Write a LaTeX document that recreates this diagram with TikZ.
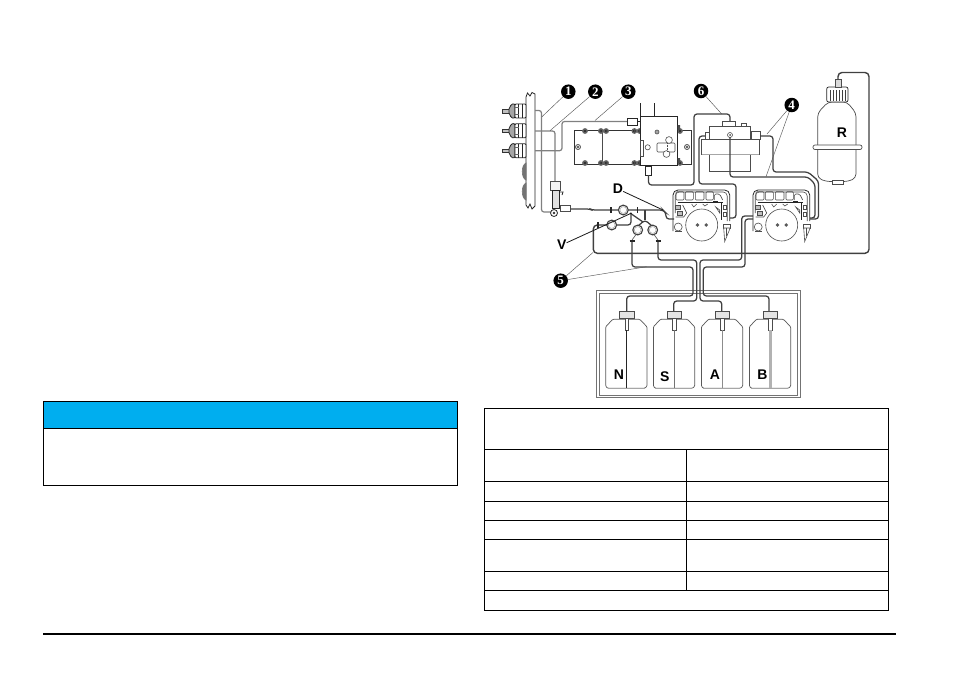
\documentclass[tikz,border=0pt]{standalone}
\usepackage{fontspec}
\setmainfont{Liberation Sans}
\newfontfamily\calloutfont{Liberation Serif}
\definecolor{noticeblue}{HTML}{00AEEF}
\tikzset{
  rulebox/.style={draw=black,line width=0.9pt},
  tube/.style={draw=black!75,line width=1.25pt,rounded corners=3pt},
  lighttube/.style={draw=black!50,line width=1.2pt,rounded corners=2.5pt},
  thinpart/.style={draw=black!70,line width=0.6pt},
  darkpart/.style={draw=black!85,line width=0.8pt},
  leader/.style={draw=black!65,line width=0.45pt},
  darkleader/.style={draw=black!90,line width=0.8pt},
  callout/.style={circle,fill=black,text=white,inner sep=0pt,minimum size=14.5pt,font=\calloutfont\bfseries\fontsize{13}{13}\selectfont},
  letter/.style={inner sep=0pt,font=\bfseries\fontsize{14}{14}\selectfont},
  connector/.pic={
    \draw[draw=black!80,line width=0.6pt,fill=black!25] (-24,-1.8) rectangle (-17,1.8);
    \draw[black!85,line width=0.8pt,fill=black!35] (-17,-2) .. controls (-15,-8) and (-12,-8) .. (-11,-6) -- (-11,6) .. controls (-12,8) and (-15,8) .. (-17,2) -- cycle;
    \draw[black!85,line width=0.8pt,fill=white,rounded corners=1pt] (-11,-7) rectangle (0,7);
    \draw[black!85,line width=0.8pt] (-7.5,-7)--(-7.5,7) (-3.5,-7)--(-3.5,7);
    \draw[black!60,line width=0.8pt] (-11,-3.5) -- (-7.5,-3.5) (-11,3.5) -- (-7.5,3.5);
  },
  screwpair/.pic={
    \fill[black!60] (-2.6,0) circle (2.9) (2.6,0) circle (2.9);
    \draw[black!90,line width=0.4pt] (-2.6,0) circle (1.2) (2.6,0) circle (1.2);
  },
  singlescrew/.pic={
    \fill[black!60] (0,0) circle (2.9);
    \draw[black!90,line width=0.4pt] (0,0) circle (1.2);
  },
  pump/.pic={
    \draw[darkpart,rounded corners=5pt,fill=white] (-28.7,6) -- (-28.7,-35) -- (28,-35) -- (28,-4);
    \draw[thinpart,rounded corners=4pt] (-26.5,-12) -- (-26.5,-33) -- (25.5,-33) -- (25.5,-4);
    \foreach \a/\b in {-25.7/-17.7,-16.4/-8.4,-6.4/2.3,4.3/11.6}
      \draw[thinpart,rounded corners=1pt] (\a,-33.3) rectangle (\b,-25);
    \draw[thinpart,rounded corners=1.5pt] (12.5,-25) -- (12.5,-31) -- (18,-31) -- (21,-25);
    \draw[darkpart,line width=1.1pt] (-23.7,-22.7) -- (21,-22.7);
    \fill[black!85] (11,-24) rectangle (16,-22);
    \draw[thinpart] (-10,-21) -- (-8,-18) -- (-5,-21) (1,-21) -- (3,-19) -- (6,-21) (14,-18) -- (18,-15) -- (18,-12) -- cycle;
    \draw[thinpart,fill=black!25] (-26,-20) rectangle (-21,-16);
    \draw[thinpart,fill=black!25] (-24,-14) rectangle (-19,-10);
    \draw[thinpart] (-19,-20) -- (-15,-12) -- (-18,-8) -- (-26,-8);
    \draw[thinpart] (22,-20) rectangle (25,-16) (22,-13) rectangle (25,-9);
    \draw[darkpart,line width=0.7pt] (20,-22.7) -- (20,-5);
    \draw[thinpart,fill=white] (0,0) circle (16);
    \fill[black!65] (-4.3,0) circle (1.9) (4.5,0) circle (1.9);
    \draw[thinpart] (-23.5,2) circle (4);
    \draw[thinpart] (-26.5,6) -- (-20,6);
    \draw[thinpart,fill=white] (21.6,-1) rectangle (29,3);
    \draw[thinpart,fill=white] (22,3) -- (23,16.5) -- (28.5,3) -- cycle;
    \draw[thinpart] (24.5,3) -- (24.5,11);
  },
  bottle/.pic={
    \draw[draw=black!65,line width=0.7pt,rounded corners=1pt,fill=white] (0,7.5) -- (7,0) -- (34,0) -- (41.3,7.5) -- (41.3,67) -- (39,69) -- (2,69) -- (0,67) -- cycle;
    \draw[black!35,line width=1pt] (2,69.3) -- (39,69.3);
    \draw[draw=black!70,line width=0.7pt,fill=black!10] (13.6,-8) rectangle (28.3,-1);
    \draw[thinpart,fill=white] (19.3,-1) rectangle (22.6,11);
  },
  clamp/.pic={
    \draw[draw=black!75,line width=1.1pt,fill=white] (0,0) circle (4.9);
    \draw[black!35,line width=0.5pt] (0,0) circle (3.4);
  },
  tick/.pic={
    \draw[black!85,line width=1.5pt] (0,-2.7) -- (0,2.7);
  }
}
\begin{document}
\begin{tikzpicture}[x=1pt,y=-1pt]
\useasboundingbox[fill=white] (0,0) rectangle (954,673);

% notice box
\path[fill=noticeblue] (43.3,401.3) rectangle (457.3,428.3);
\draw[rulebox] (43.3,401.3) rectangle (457.3,485.3);
\draw[rulebox] (43.3,428.3) -- (457.3,428.3);

% table
\draw[rulebox] (484.5,408.3) rectangle (888.7,610.3);
\foreach \y in {449.7,481.3,501.3,520.3,539.3,571.7,590.7}
  \draw[rulebox] (484.5,\y) -- (888.7,\y);
\draw[rulebox] (686.3,449.7) -- (686.3,590.7);

% page rule
\draw[black,line width=1.4pt] (43,634) -- (896,634);

% bottle tray
\draw[black!55,line width=0.7pt] (596.7,290.7) rectangle (800,397.7);
\draw[black!55,line width=0.7pt] (599,293) rectangle (797.6,395.2);

% bottles
\foreach \x in {605.7,653.4,701.4,749.4}
  \pic at (\x,319.3) {bottle};
\draw[black!85,line width=1.4pt] (626.7,330) -- (626.7,388);
\draw[black!55,line width=1.4pt] (674.4,330) -- (674.4,388);
\draw[black!45,line width=1.8pt] (722.4,330) -- (722.4,388);
\draw[black!30,line width=3pt] (770.4,330) -- (770.4,388);

% front panel
\draw[darkpart,fill=white] (535,94) -- (532,92.5) -- (530,96) -- (527.5,93) -- (526,97) -- (526,205)
  -- (528,208) -- (530,204) -- (532,209) -- (535,206) -- cycle;
\draw[draw=black!55,line width=0.6pt,fill=black!55] (526,163) .. controls (521,165) and (521,178) .. (526,180) -- cycle;
\draw[draw=black!55,line width=0.6pt,fill=black!55] (526,183) .. controls (521,185) and (521,198) .. (526,200) -- cycle;
\foreach \y in {111,130.7,150.7}
  \pic at (526,\y) {connector};

% tubes to the panel
\draw[lighttube] (535,110.5) -- (541.5,110.5) -- (541.5,212) -- (551,212);
\draw[lighttube] (535,131) -- (555,131) -- (555,181);
\draw[lighttube] (535,150.7) -- (562,150.7) -- (562,121.5) -- (628,121.5);

% fitting at foot of panel
\draw[thinpart,fill=black!5] (550.7,181.7) rectangle (560,190);
\draw[darkpart,fill=black!12] (552,190) rectangle (559,208);
\draw[darkpart] (559,192) -- (563,192) -- (562,195);
\draw[darkpart,fill=white] (554,213) circle (3.5);
\fill[black!80] (554,213) circle (1.3);
\draw[thinpart,fill=white] (560.7,205.7) rectangle (570.7,211.7);

% plate and valve block
\draw[black!80,line width=0.8pt,fill=white] (574,130) rectangle (691.7,164);
\draw[thinpart] (602,130) -- (602,164);
\foreach \x in {603.5,637}{
  \pic at (\x,131) {screwpair};
  \pic at (\x,163) {screwpair};
}
\pic at (585,131) {singlescrew};
\pic at (585,163) {singlescrew};
\pic at (680,131) {singlescrew};
\pic at (680,163) {singlescrew};
\draw[thinpart,fill=black!10] (578,147) circle (2.6);
\draw[thinpart] (576.5,145.5) -- (579.5,148.5) (576.5,148.5) -- (579.5,145.5);
\draw[thinpart,fill=black!10] (687,147) circle (2.6);
\draw[thinpart] (685.5,145.5) -- (688.5,148.5) (685.5,148.5) -- (688.5,145.5);
\draw[darkpart] (640.5,103) -- (640.5,116) (654,103) -- (654,116);
\draw[black!85,line width=0.9pt,fill=white] (640.7,116) rectangle (677.7,165);
\fill[black!70] (677.7,125) rectangle (680,130) (677.7,158) rectangle (680,163);
\draw[thinpart,fill=black!35] (657,132) circle (2);
\draw[thinpart] (647.7,147.3) circle (2.6);
\draw[thinpart] (640.7,140) rectangle (643.5,156);
\draw[thinpart,fill=white,rounded corners=1pt] (657,143) rectangle (675,152);
\draw[thinpart,fill=white] (669,140) circle (3.4);
\draw[thinpart,fill=white] (666.5,154) circle (3.4);
\draw[thinpart,densely dotted] (667.5,143) -- (667.5,152);
\draw[darkpart,fill=white] (627.7,118.3) rectangle (637.7,125);
\draw[darkpart] (637.7,121.5) -- (640.7,121.5);
\draw[darkpart,fill=white] (645,166) rectangle (651.7,175);

% tube block to device 6
\draw[tube] (648.5,175) -- (648.5,185) -- (694,185) -- (694,114) -- (730,114) -- (730,122);

% device 6
\draw[black!70,line width=0.7pt,fill=white] (709.3,126) rectangle (750.7,171);
\draw[thinpart,fill=white] (722,121) rectangle (735,126);
\draw[thinpart] (741,123) rectangle (746,126);
\draw[black!70,line width=0.7pt,fill=white] (701.7,139.3) rectangle (759,154.3);
\draw[black!35,line width=0.8pt] (701.7,154.3) -- (759,154.3);
\draw[thinpart,fill=white] (705,132) rectangle (709.3,139.3);
\draw[thinpart,fill=white] (751,131) rectangle (760,139);
\draw[thinpart] (730,135) circle (2.5);
\fill[black!70] (730,135) circle (1);

% pumps
\pic at (701.7,225) {pump};
\pic at (781.7,225) {pump};

% tubes device 6 to pumps
\draw[tube] (730,137) -- (730,177) -- (808,177) -- (815,184) -- (815,218) -- (810,218);
\draw[tube] (760,136) -- (773,136) -- (773,172) -- (808,172) -- (818.5,181) -- (818.5,219) -- (810,219);
\draw[tube] (705,136) -- (699,136) -- (699,184) -- (736,184) -- (736,218) -- (730,218);

% R bottle
\draw[black!70,line width=0.7pt,fill=white,rounded corners=4pt] (828,102) -- (817.7,113) -- (817.7,178) -- (826,181.5) -- (848,181.5) -- (856,178) -- (856,113) -- (847,102) -- cycle;
\draw[black!70,line width=0.7pt,fill=white,rounded corners=2pt] (813,145) rectangle (862,149.5);
\draw[black!85,line width=0.7pt,fill=white,rounded corners=2pt] (826.7,87) rectangle (848,102);
\foreach \x in {830,833,836,839,842,845}
  \draw[black!75,line width=0.9pt] (\x,90) -- (\x,101);
\draw[thinpart,fill=black!15] (835,79) rectangle (841.7,87);
\draw[thinpart,fill=white] (832.7,180) rectangle (843,184);

% R tube and return to clamp
\draw[tube,line width=1.4pt,rounded corners=4pt] (838,79) -- (838,72.5) -- (869,72.5) -- (869,253.3) -- (593.3,253.3) -- (593.3,225) -- (607,225);

% tubes at clamps
\draw[tube] (570.7,209) -- (590,209) -- (592,210) -- (663,210) -- (666,213) -- (666,219) -- (674,219);
\draw[tube] (645,210) -- (645,220);
\draw[tube] (638,226) -- (645,220) -- (652,226);
\draw[tube] (630,213) -- (643,222);
\draw[tube] (616,225) -- (631,225) -- (631,213);

\pic at (623.3,210) {clamp};
\pic at (611.7,225) {clamp};
\pic at (637.7,230) {clamp};
\pic at (652.7,230) {clamp};
\pic at (611,210) {tick};
\pic at (637.3,210) {tick};
\pic at (598,225) {tick};

% reagent tubes
\draw[tube] (632,240) -- (632,267) -- (693,267) -- (693,296) -- (626.7,296) -- (626.7,311);
\draw[tube] (658,240) -- (658,260) -- (696.7,260) -- (696.7,301) -- (673.7,301) -- (673.7,311);
\draw[tube] (753,216) -- (741.7,216) -- (741.7,260) -- (700,260) -- (700,301) -- (721.7,301) -- (721.7,311);
\draw[tube] (753,219) -- (745,219) -- (745,267) -- (703.3,267) -- (703.3,296) -- (769,296) -- (769,311);
\draw[thinpart] (636,234.5) -- (632,240) (654,234.5) -- (658,240);
\draw[black!85,line width=1.6pt] (629.5,241) -- (634.5,241) (655.5,241) -- (660.5,241);

% labels
\node[letter] (labN) at (619,375) {N};
\node[letter] (labS) at (664.7,377) {S};
\node[letter] (labA) at (715,375) {A};
\node[letter] (labB) at (762.3,375) {B};
\node[letter] (labR) at (842,133) {R};
\node[letter] (labD) at (618,189) {D};
\node[letter] (labV) at (561.7,245) {V};

% callouts
\node[callout] (c1) at (568.3,91.7) {1};
\node[callout] (c2) at (595.3,91.7) {2};
\node[callout] (c3) at (628.3,91.7) {3};
\node[callout] (c6) at (701,91) {6};
\node[callout] (c4) at (791.7,105) {4};
\node[callout] (c5) at (560.7,280.7) {5};

\coordinate (e1) at (542,116.7);
\coordinate (e2) at (550,130.7);
\coordinate (e3) at (595,120.5);
\coordinate (e6) at (721.7,114);
\coordinate (e4a) at (767,134);
\coordinate (e4b) at (766,176.7);
\coordinate (e5a) at (593,252.5);
\coordinate (e5b) at (646.7,266.7);
\coordinate (eD) at (663,210);
\coordinate (eV) at (631.7,213);

\draw[leader] (c1) -- (e1);
\draw[leader] (c2) -- (e2);
\draw[leader] (c3) -- (e3);
\draw[leader] (c6) -- (e6);
\draw[leader] (c4) -- (e4a);
\draw[leader] (c4) -- (e4b);
\draw[leader] (c5) -- (e5a);
\draw[leader] (c5) -- (e5b);
\draw[darkleader] (labD) -- (eD);
\draw[darkleader] (labV) -- (eV);
\end{tikzpicture}
\end{document}
